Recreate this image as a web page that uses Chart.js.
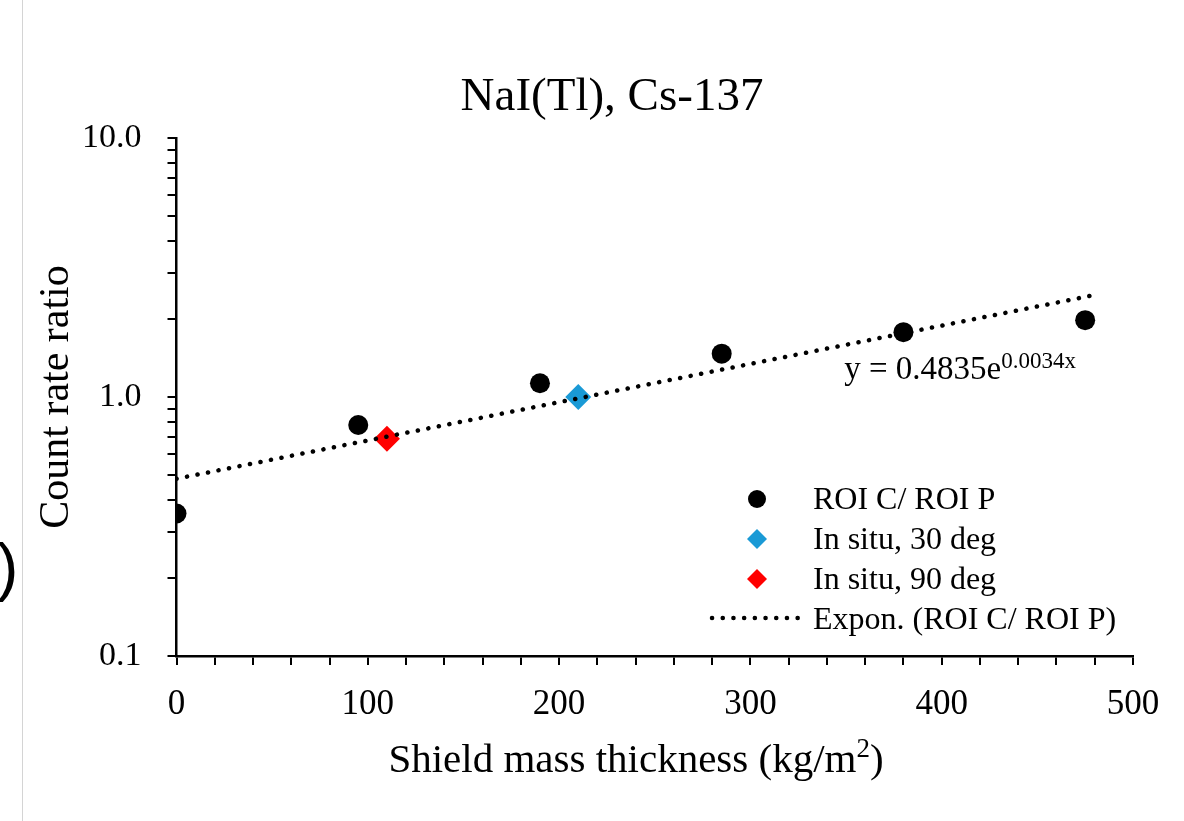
<!DOCTYPE html>
<html>
<head>
<meta charset="utf-8">
<script src="https://cdn.jsdelivr.net/npm/chart.js@4.4.0/dist/chart.umd.min.js"></script>
<style>
  body { margin: 0; background: #fff; }
  #wrap { position: relative; width: 1184px; height: 821px; }
  #edge { position: absolute; left: 22px; top: 0; width: 1px; height: 821px; background: #d4d4d4; }
  #paren { position: absolute; left: -3px; top: 535px; font: 64px "Liberation Sans", Arial, sans-serif; line-height: 1; }
</style>
</head>
<body>
<div id="wrap">
  <canvas id="chart" width="1184" height="821"></canvas>
  <div id="edge"></div>
  <div id="paren">)</div>
</div>
<script>
// shield thickness (kg/m2) and count rate ratios
const roiX = [0, 95, 190, 285, 380, 475];
const roiRatio = [0.355, 0.78, 1.13, 1.47, 1.78, 1.98];
const situ30X = [210];
const situ30Ratio = [1.0];
const situ90X = [110];
const situ90Ratio = [0.69];
// end points of the exponential trendline
const trendX = [0, 478];
const trendRatio = [0.4835, 2.46];
const yTickValues = [0.1, 0.2, 0.3, 0.4, 0.5, 0.6, 0.7, 0.8, 0.9,
                     1, 2, 3, 4, 5, 6, 7, 8, 9, 10];

const serif = '"Liberation Serif", "Times New Roman", serif';
const pts = (xs, ys) => xs.map((x, i) => ({x: x, y: ys[i]}));

// titles, equation and legend are drawn by hand (Excel-style placement)
const extras = {
  id: 'extras',
  afterDraw(chart) {
    const ctx = chart.ctx;
    const xs = chart.scales.x, ys = chart.scales.y;
    const area = chart.chartArea;
    ctx.save();
    ctx.fillStyle = '#000';
    ctx.textBaseline = 'alphabetic';

    ctx.font = '47px ' + serif;
    ctx.textAlign = 'center';
    ctx.fillText('NaI(Tl), Cs-137', 612, 110);

    // y axis title
    ctx.save();
    ctx.translate(68, (area.top + area.bottom) / 2);
    ctx.rotate(-Math.PI / 2);
    ctx.font = '42px ' + serif;
    ctx.fillText('Count rate ratio', 0, 0);
    ctx.restore();

    // x axis title with superscript
    ctx.textAlign = 'left';
    ctx.font = '41px ' + serif;
    const part1 = 'Shield mass thickness (kg/m', part3 = ')';
    const w1 = ctx.measureText(part1).width, w3 = ctx.measureText(part3).width;
    ctx.font = '27px ' + serif;
    const w2 = ctx.measureText('2').width;
    let tx0 = 636 - (w1 + w2 + w3) / 2;
    ctx.font = '41px ' + serif;
    ctx.fillText(part1, tx0, 772);
    ctx.font = '27px ' + serif;
    ctx.fillText('2', tx0 + w1, 757);
    ctx.font = '41px ' + serif;
    ctx.fillText(part3, tx0 + w1 + w2, 772);

    // trendline equation
    const ex = xs.getPixelForValue(349), ey = ys.getPixelForValue(1.17);
    ctx.font = '33px ' + serif;
    ctx.fillText('y = 0.4835e', ex, ey);
    const w = ctx.measureText('y = 0.4835e').width;
    ctx.font = '23px ' + serif;
    ctx.fillText('0.0034x', ex + w, ey - 11);

    // legend
    const mx = 757, lx = 813;
    ctx.font = '32px ' + serif;
    ctx.beginPath();
    ctx.arc(mx, 499, 9, 0, Math.PI * 2);
    ctx.fill();
    ctx.fillText('ROI C/ ROI P', lx, 509);

    const diamond = (cy, col) => {
      ctx.fillStyle = col;
      ctx.beginPath();
      ctx.moveTo(mx, cy - 10);
      ctx.lineTo(mx + 10, cy);
      ctx.lineTo(mx, cy + 10);
      ctx.lineTo(mx - 10, cy);
      ctx.closePath();
      ctx.fill();
    };
    diamond(539, '#1a9ad6');
    diamond(579, '#ff0000');
    ctx.fillStyle = '#000';
    ctx.fillText('In situ, 30 deg', lx, 549);
    ctx.fillText('In situ, 90 deg', lx, 589);

    ctx.strokeStyle = '#000';
    ctx.lineWidth = 4.5;
    ctx.lineCap = 'round';
    ctx.setLineDash([0.1, 10.6]);
    ctx.beginPath();
    ctx.moveTo(712, 618);
    ctx.lineTo(800, 618);
    ctx.stroke();
    ctx.fillText('Expon. (ROI C/ ROI P)', lx, 629);
    ctx.restore();
  }
};

const axisGrid = {
  display: true,
  drawOnChartArea: false,
  drawTicks: true,
  tickLength: 9,
  color: '#000',
  lineWidth: 2
};

new Chart(document.getElementById('chart'), {
  type: 'scatter',
  data: {
    datasets: [
      {
        label: 'Expon. (ROI C/ ROI P)',
        data: pts(trendX, trendRatio),
        showLine: true,
        pointRadius: 0,
        borderColor: '#000',
        borderWidth: 4.5,
        borderDash: [0.1, 10.6],
        borderCapStyle: 'round',
        order: 0
      },
      {
        label: 'In situ, 90 deg',
        data: pts(situ90X, situ90Ratio),
        pointStyle: 'rectRot',
        pointRadius: 13,
        backgroundColor: '#ff0000',
        borderColor: '#ff0000',
        borderWidth: 0,
        order: 1
      },
      {
        label: 'In situ, 30 deg',
        data: pts(situ30X, situ30Ratio),
        pointStyle: 'rectRot',
        pointRadius: 13,
        backgroundColor: '#1a9ad6',
        borderColor: '#1a9ad6',
        borderWidth: 0,
        order: 2
      },
      {
        label: 'ROI C/ ROI P',
        data: pts(roiX, roiRatio),
        pointStyle: 'circle',
        pointRadius: 10,
        backgroundColor: '#000',
        borderColor: '#000',
        borderWidth: 0,
        order: 3
      }
    ]
  },
  options: {
    responsive: false,
    animation: false,
    devicePixelRatio: 1,
    layout: { padding: { left: 56, right: 51, top: 138, bottom: 76 } },
    plugins: {
      legend: { display: false },
      title: { display: false },
      tooltip: { enabled: false }
    },
    scales: {
      x: {
        type: 'linear',
        min: 0,
        max: 500,
        grid: axisGrid,
        border: { display: true, color: '#000', width: 2.5 },
        ticks: {
          stepSize: 20,
          autoSkip: false,
          maxRotation: 0,
          padding: 19,
          color: '#000',
          font: { family: serif, size: 35 },
          callback: v => (v % 100 === 0 ? String(v) : '')
        }
      },
      y: {
        type: 'logarithmic',
        min: 0.1,
        max: 10,
        grid: axisGrid,
        border: { display: true, color: '#000', width: 2.5 },
        afterBuildTicks: scale => {
          scale.ticks = yTickValues.map(v => ({value: v}));
        },
        ticks: {
          autoSkip: false,
          padding: 26,
          color: '#000',
          font: { family: serif, size: 34 },
          callback: v => {
            const l = Math.log10(v);
            return Math.abs(l - Math.round(l)) < 1e-9 ? v.toFixed(1) : '';
          }
        }
      }
    }
  },
  plugins: [extras]
});
</script>
</body>
</html>
